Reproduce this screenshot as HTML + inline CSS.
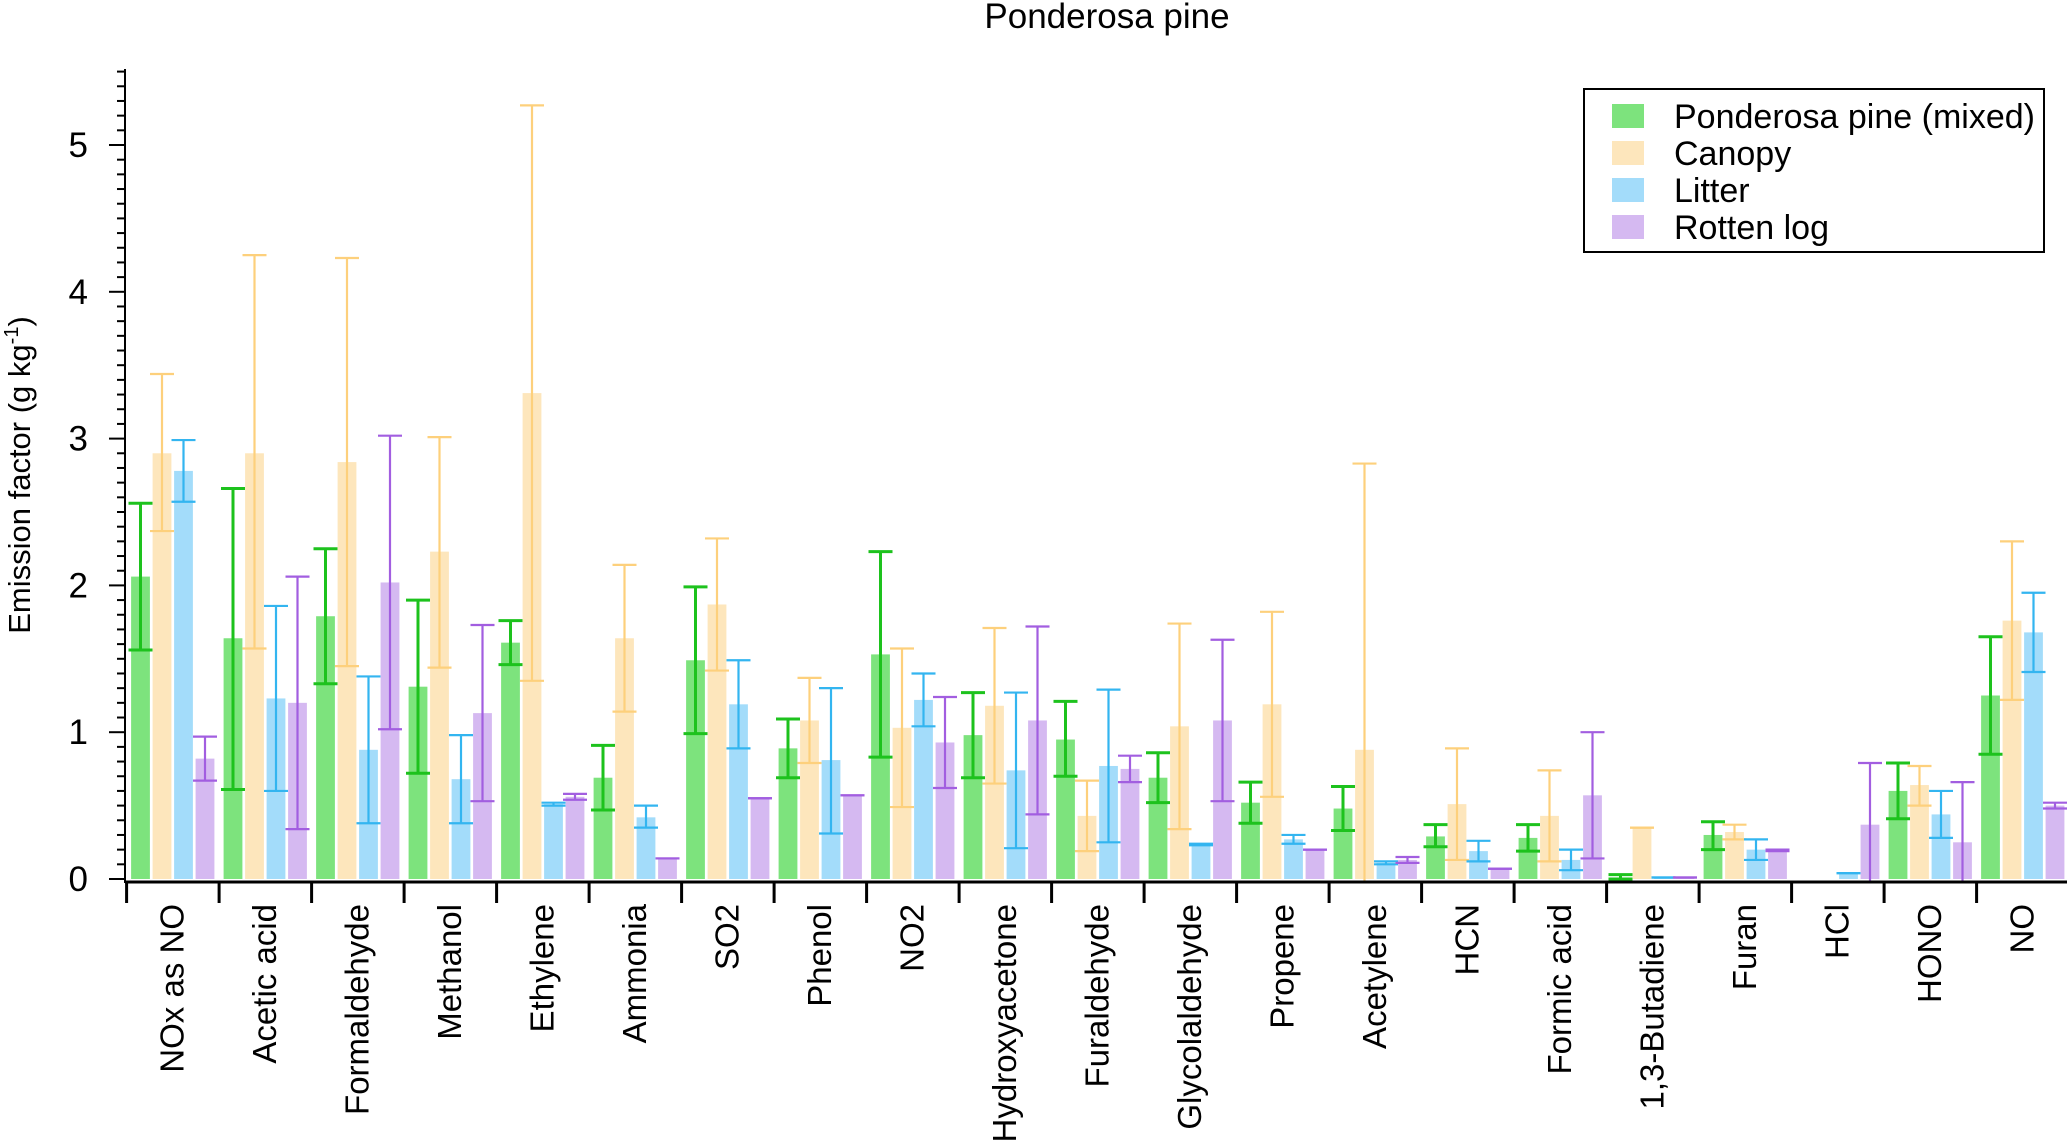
<!DOCTYPE html>
<html><head><meta charset="utf-8"><style>
html,body{margin:0;padding:0;background:#fff}
svg{display:block;font-family:"Liberation Sans",sans-serif}
</style></head><body>
<svg id="chart" width="2067" height="1141" viewBox="0 0 2067 1141">
<text x="1107" y="28" font-size="35" text-anchor="middle">Ponderosa pine</text>
<g id="plot"></g>
</svg>
<script>
const categories=["NOx as NO","Acetic acid","Formaldehyde","Methanol","Ethylene","Ammonia","SO2","Phenol","NO2","Hydroxyacetone","Furaldehyde","Glycolaldehyde","Propene","Acetylene","HCN","Formic acid","1,3-Butadiene","Furan","HCl","HONO","NO"];
const seriesNames=["Ponderosa pine (mixed)","Canopy","Litter","Rotten log"];
const mixedVal=[2.06,1.64,1.79,1.31,1.61,0.69,1.49,0.89,1.53,0.98,0.95,0.69,0.52,0.48,0.29,0.28,0.01,0.30,0,0.60,1.25];
const mixedLo=[1.56,0.61,1.33,0.72,1.46,0.47,0.99,0.69,0.83,0.69,0.70,0.52,0.38,0.33,0.22,0.19,0.00,0.20,0,0.41,0.85];
const mixedHi=[2.56,2.66,2.25,1.90,1.76,0.91,1.99,1.09,2.23,1.27,1.21,0.86,0.66,0.63,0.37,0.37,0.03,0.39,0,0.79,1.65];
const canopyVal=[2.90,2.90,2.84,2.23,3.31,1.64,1.87,1.08,1.03,1.18,0.43,1.04,1.19,0.88,0.51,0.43,0.35,0.32,0,0.64,1.76];
const canopyLo=[2.37,1.57,1.45,1.44,1.35,1.14,1.42,0.79,0.49,0.65,0.19,0.34,0.56,-1.07,0.13,0.12,0.35,0.27,0,0.50,1.22];
const canopyHi=[3.44,4.25,4.23,3.01,5.27,2.14,2.32,1.37,1.57,1.71,0.67,1.74,1.82,2.83,0.89,0.74,0.35,0.37,0,0.77,2.30];
const litterVal=[2.78,1.23,0.88,0.68,0.51,0.42,1.19,0.81,1.22,0.74,0.77,0.23,0.27,0.11,0.19,0.13,0.01,0.20,0.04,0.44,1.68];
const litterLo=[2.57,0.60,0.38,0.38,0.50,0.35,0.89,0.31,1.04,0.21,0.25,0.23,0.24,0.10,0.12,0.06,0.01,0.13,0.04,0.28,1.41];
const litterHi=[2.99,1.86,1.38,0.98,0.52,0.50,1.49,1.30,1.40,1.27,1.29,0.24,0.30,0.12,0.26,0.20,0.01,0.27,0.04,0.60,1.95];
const rottenVal=[0.82,1.20,2.02,1.13,0.56,0.14,0.55,0.57,0.93,1.08,0.75,1.08,0.20,0.13,0.07,0.57,0.01,0.20,0.37,0.25,0.50];
const rottenLo=[0.67,0.34,1.02,0.53,0.54,0.14,0.55,0.57,0.62,0.44,0.66,0.53,0.20,0.11,0.07,0.14,0.01,0.19,-0.05,-0.17,0.48];
const rottenHi=[0.97,2.06,3.02,1.73,0.58,0.14,0.55,0.57,1.24,1.72,0.84,1.63,0.20,0.15,0.07,1.00,0.01,0.20,0.79,0.66,0.52];
const yTicks=[0,1,2,3,4,5];

const NS="http://www.w3.org/2000/svg";
const plot=document.getElementById('plot');
const X0=126.6, GW=92.5, Y0=879, PU=146.8, YTOP=69;
const yS=v=>Y0-v*PU;
const xG=i=>X0+i*GW;
function mk(tag,attrs,parent){const e=document.createElementNS(NS,tag);for(const k in attrs)e.setAttribute(k,attrs[k]);(parent||plot).appendChild(e);return e;}
const fills=["#7de37d","#fde6bc","#a3dcfa","#d5b9f1"];
const errCols=["#1dc21d","#fdd07c","#33b5f0","#a25ee0"];
const vals=[mixedVal,canopyVal,litterVal,rottenVal];
const los=[mixedLo,canopyLo,litterLo,rottenLo];
const his=[mixedHi,canopyHi,litterHi,rottenHi];
const keys=["mixed","canopy","litter","rotten-log"];
const defs=mk('defs',{});
const cp=mk('clipPath',{id:'pc'},defs);
mk('rect',{x:125,y:0,width:1942,height:Y0+4},cp);
const bars=mk('g',{'clip-path':'url(#pc)'});
for(let s=0;s<4;s++){
  for(let i=0;i<categories.length;i++){
    const cx=xG(i)+4.5+s*21.5+9.4;
    const v=vals[s][i];
    const r=mk('rect',{x:cx-9.4,y:yS(Math.max(v,0)),width:18.8,height:Math.max(0,Y0-yS(v)),fill:fills[s]},bars);
    
    
    const lo=los[s][i],hi=his[s][i];
    if(hi===0&&lo===0)continue;
    const eg=mk('g',{stroke:errCols[s],'stroke-width':s==0?3:2.2},bars);
    
    
    mk('line',{x1:cx,x2:cx,y1:yS(lo),y2:yS(hi)},eg);
    mk('line',{x1:cx-12,x2:cx+12,y1:yS(hi),y2:yS(hi)},eg);
    if(lo>-0.02)mk('line',{x1:cx-12,x2:cx+12,y1:yS(lo),y2:yS(lo)},eg);
  }
}
const ya=mk('g',{stroke:'#000','stroke-width':2});


mk('line',{x1:125,x2:125,y1:YTOP,y2:Y0+4},ya);
for(let k=0;k<=55;k++){const y=yS(k/10);mk('line',{x1:k%10==0?109:117,x2:125,y1:y,y2:y},ya);}
yTicks.forEach(t=>{const tx=mk('text',{x:88,y:yS(t)+12,'font-size':35,'text-anchor':'end'});tx.textContent=t;

});
const yt=mk('text',{transform:'translate(30,475) rotate(-90)','font-size':31,'text-anchor':'middle'});


yt.innerHTML='Emission factor (g kg<tspan dy="-12" font-size="20">-1</tspan><tspan dy="12">)</tspan>';
const xa=mk('g',{stroke:'#000','stroke-width':3});


mk('line',{x1:125,x2:2067,y1:Y0+3,y2:Y0+3},xa);
for(let i=0;i<=categories.length;i++){mk('line',{x1:xG(i),x2:xG(i),y1:Y0+3,y2:Y0+24},xa);}
categories.forEach((c,i)=>{const cx=xG(i)+GW/2+10.5;
const t=mk('text',{transform:`translate(${cx},904) rotate(-90)`,'font-size':33,'text-anchor':'end'});t.textContent=c;

});
const lg=mk('g',{});


mk('rect',{x:1584,y:89,width:460,height:163,fill:'#fff',stroke:'#000','stroke-width':2},lg);
seriesNames.forEach((n,s)=>{const y=116+s*37;
const e=mk('g',{},lg);


mk('rect',{x:1612,y:y-12,width:32,height:24,fill:fills[s]},e);
const t=mk('text',{x:1674,y:y+12,'font-size':34},e);t.textContent=n;});
</script>
</body></html>
